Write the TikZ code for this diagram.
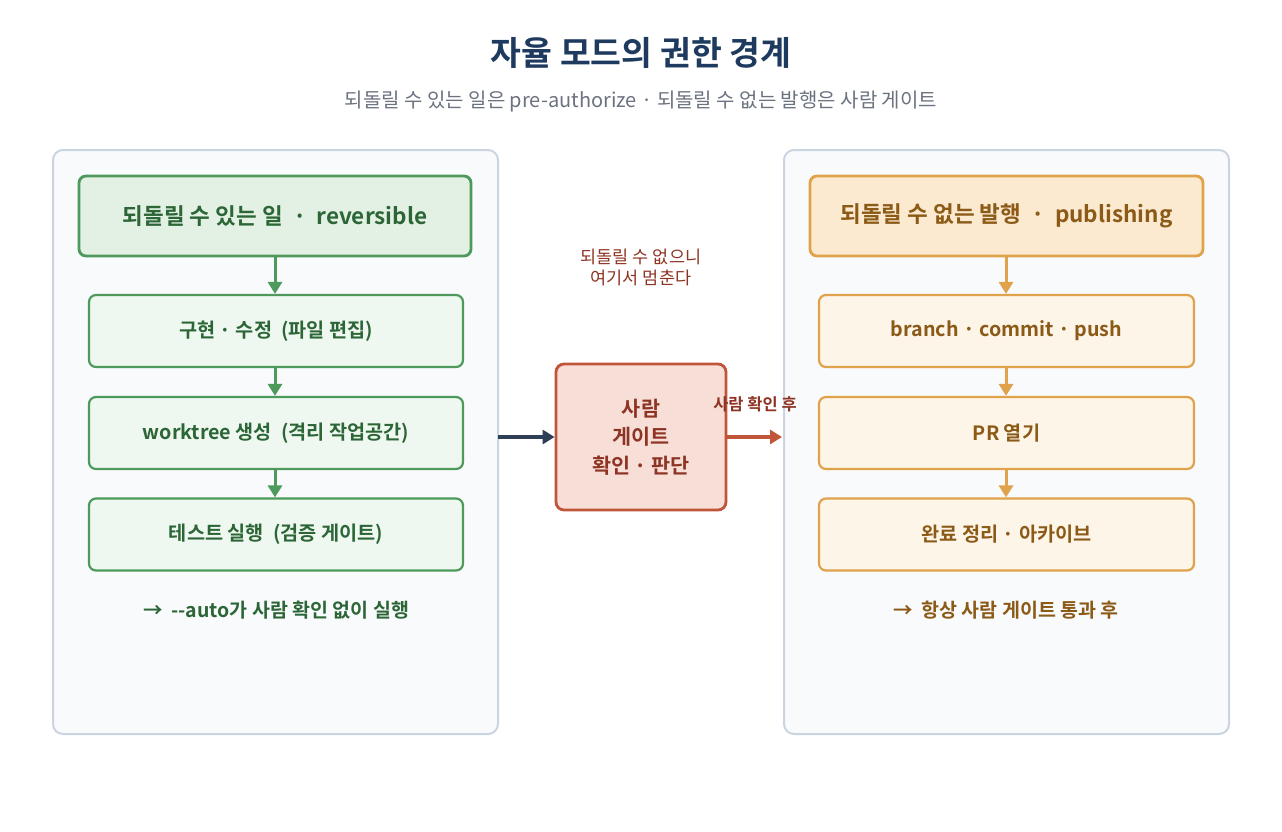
\documentclass[tikz,border=0pt]{standalone}
\usepackage{fontspec}
\setmainfont{Noto Sans CJK KR}[BoldFont={Noto Sans CJK KR Bold},Ligatures=NoCommon]
\usetikzlibrary{arrows.meta}
\definecolor{navy}{HTML}{1F3A5F}
\definecolor{subgray}{HTML}{6B7280}
\definecolor{panelfill}{HTML}{F8FAFC}
\definecolor{panelline}{HTML}{CBD5E1}
\definecolor{gline}{HTML}{4E9A5C}
\definecolor{ghead}{HTML}{E3F1E4}
\definecolor{gfill}{HTML}{EFF8F0}
\definecolor{gtext}{HTML}{2C6637}
\definecolor{oline}{HTML}{E0A24A}
\definecolor{ohead}{HTML}{FBEAD0}
\definecolor{ofill}{HTML}{FDF5E8}
\definecolor{otext}{HTML}{8B5A17}
\definecolor{rline}{HTML}{C0553A}
\definecolor{rfill}{HTML}{F7DED7}
\definecolor{rtext}{HTML}{8E3424}
\definecolor{arrnavy}{HTML}{2D3E55}
\begin{document}
\begin{tikzpicture}[x=1pt,y=-1pt,
  panel/.style={draw=panelline,fill=panelfill,line width=2pt,rounded corners=10pt},
  ghd/.style={draw=gline,fill=ghead,line width=2.8pt,rounded corners=7pt,text=gtext,font=\fontsize{22.5}{26}\selectfont\bfseries},
  gbox/.style={draw=gline,fill=gfill,line width=2.2pt,rounded corners=7pt,text=gtext,font=\fontsize{19.7}{23}\selectfont\bfseries},
  ohd/.style={draw=oline,fill=ohead,line width=2.8pt,rounded corners=7pt,text=otext,font=\fontsize{22.5}{26}\selectfont\bfseries},
  obox/.style={draw=oline,fill=ofill,line width=2.2pt,rounded corners=7pt,text=otext,font=\fontsize{19.7}{23}\selectfont\bfseries},
  garr/.style={draw=gline,line width=3pt,-{Triangle[length=12pt,width=14pt]}},
  oarr/.style={draw=oline,line width=3pt,-{Triangle[length=12pt,width=14pt]}},
]
\useasboundingbox (0,0) rectangle (1282,831);
\fill[white] (0,0) rectangle (1282,831);
\node[font=\fontsize{33.5}{38}\selectfont\bfseries,text=navy] (title) at (641,53) {자율 모드의 권한 경계};
\node[font=\fontsize{20}{24}\selectfont,text=subgray] (sub) at (641,102) {되돌릴 수 있는 일은 pre-authorize · 되돌릴 수 없는 발행은 사람 게이트};
% panels
\draw[panel] (53,150) rectangle (498,734);
\draw[panel] (784,150) rectangle (1229,734);
\coordinate (lp) at (498,437);
\coordinate (rp) at (782,437);
% left
\node[ghd,minimum width=392pt,minimum height=80pt] (lh) at (275,216) {되돌릴 수 있는 일 \ · \ reversible};
\node[gbox,minimum width=374pt,minimum height=72pt] (l1) at (276,331) {구현 · 수정 \ (파일 편집)};
\node[gbox,minimum width=374pt,minimum height=72pt] (l2) at (276,433) {worktree 생성 \ (격리 작업공간)};
\node[gbox,minimum width=374pt,minimum height=72pt] (l3) at (276,534.5) {테스트 실행 \ (검증 게이트)};
\draw[garr] (lh.south -| 275,0) -- (l1.north -| 275,0);
\draw[garr] (l1.south -| 275,0) -- (l2.north -| 275,0);
\draw[garr] (l2.south -| 275,0) -- (l3.north -| 275,0);
\node[text=gtext,font=\fontsize{19.5}{23}\selectfont\bfseries] (lnote) at (276,610) {→ \ {-}{-}auto가 사람 확인 없이 실행};
% right
\node[ohd,minimum width=393pt,minimum height=80pt] (rh) at (1006.5,216) {되돌릴 수 없는 발행 \ · \ publishing};
\node[obox,minimum width=375pt,minimum height=72pt] (r1) at (1006.5,331) {branch · commit · push};
\node[obox,minimum width=375pt,minimum height=72pt] (r2) at (1006.5,433) {PR 열기};
\node[obox,minimum width=375pt,minimum height=72pt] (r3) at (1006.5,534.5) {완료 정리 · 아카이브};
\draw[oarr] (rh.south -| 1006,0) -- (r1.north -| 1006,0);
\draw[oarr] (r1.south -| 1006,0) -- (r2.north -| 1006,0);
\draw[oarr] (r2.south -| 1006,0) -- (r3.north -| 1006,0);
\node[text=otext,font=\fontsize{19.5}{23}\selectfont\bfseries] (rnote) at (1006,610) {→ \ 항상 사람 게이트 통과 후};
% gate
\node[draw=rline,fill=rfill,line width=2.8pt,rounded corners=8pt,minimum width=170pt,minimum height=146pt,text=rtext,align=center,font=\fontsize{20.7}{28.5}\selectfont\bfseries] (gate) at (641,437) {사람\\게이트\\확인 · 판단};
\node[text=rtext,align=center,font=\fontsize{17.5}{21}\selectfont] (stop) at (641,267) {되돌릴 수 없으니\\여기서 멈춘다};
\draw[draw=arrnavy,line width=3.3pt,-{Triangle[length=12pt,width=14pt]}] (lp) -- (gate.west);
\draw[draw=rline,line width=3.3pt,-{Triangle[length=12pt,width=14pt]}] (gate.east) -- (rp);
\node[text=rtext,font=\fontsize{16.5}{19}\selectfont\bfseries] (after) at (755,404) {사람 확인 후};
\end{tikzpicture}
\end{document}
